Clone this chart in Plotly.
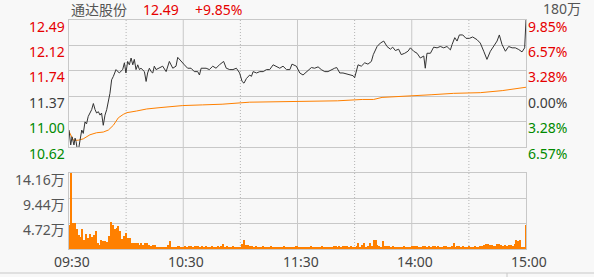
import plotly.graph_objects as go

# ---------------- data ----------------
stock_name = "通达股份"
last_price = "12.49"
last_change = "+9.85%"
vol_max_label = "180万"

price_levels = [12.49, 12.12, 11.74, 11.37, 11.00, 10.62]
price_level_text = ["12.49", "12.12", "11.74", "11.37", "11.00", "10.62"]
pct_level_text = ["9.85%", "6.57%", "3.28%", "0.00%", "3.28%", "6.57%"]
level_colors = ["#e60000", "#e60000", "#e60000", "#3c3c3c", "#008a00", "#008a00"]
pct_colors = ["#e60000", "#e60000", "#e60000", "#3c3c3c", "#008a00", "#008a00"]

vol_levels = [14.16, 9.44, 4.72]
vol_level_text = ["14.16万", "9.44万", "4.72万"]

time_ticks = [0, 60, 120, 180, 240]
time_labels = ["09:30", "10:30", "11:30", "14:00", "15:00"]
half_hour_ticks = [30, 90, 150, 210]

# minutes since 09:30 (trading minutes) and price
price_minutes = [
    0, 0.9, 1.6, 2.6, 3.2, 3.7, 4.4, 5.0, 5.8, 6.7, 7.5, 8.4, 9.2, 10.1, 11.9, 12.8,
    13.7, 14.5, 15.4, 16.3, 17.1, 18.0, 18.9, 19.8, 21.5, 22.4, 23.3, 24.7, 26.4, 28.2,
    29.1, 29.9, 30.8, 31.7, 32.6, 33.5, 34.3, 35.2, 36.1, 37.0, 37.8, 38.7, 39.6, 40.5,
    41.3, 42.2, 43.1, 44.0, 44.8, 45.7, 47.5, 49.2, 51.0, 52.7, 54.5, 56.2, 57.1, 58.8,
    60.6, 62.3, 64.1, 65.8, 67.6, 68.5, 69.4, 72.0, 73.7, 75.5, 77.2, 79.0, 80.4, 81.2,
    82.6, 84.4, 86.1, 87.9, 89.6, 90.9, 91.9, 93.2, 94.9, 95.8, 96.7, 98.5, 100.2, 102.0,
    103.7, 105.4, 107.2, 108.9, 110.7, 112.4, 114.2, 116.0, 117.1, 119.4, 121.2, 122.9,
    124.7, 127.3, 129.0, 130.8, 132.5, 134.3, 136.0, 137.8, 139.5, 140.6, 142.2, 143.9,
    145.7, 147.4, 149.2, 150.0, 150.9, 151.8, 153.5, 155.3, 157.0, 158.8, 159.8, 161.8,
    163.5, 165.3, 167.0, 168.8, 170.0, 171.4, 173.1, 174.5, 176.3, 178.0, 179.3, 181.0,
    182.8, 184.5, 186.3, 187.1, 188.0, 189.8, 191.5, 193.3, 195.0, 196.8, 198.5, 200.3,
    201.2, 202.6, 203.8, 205.0, 206.8, 208.5, 210.3, 212.0, 214.3, 216.0, 217.8, 219.5,
    221.3, 223.0, 224.8, 226.0, 227.4, 229.2, 230.9, 232.7, 234.4, 236.2, 237.9, 239.3,
    240.0,
]
prices = [
    10.87, 10.65, 10.77, 10.65, 10.75, 10.70, 10.58, 10.58, 10.72, 10.87, 10.82, 10.99, 10.96, 11.07, 11.17, 11.26,
    11.17, 11.12, 11.14, 11.09, 11.12, 10.94, 11.09, 11.17, 11.41, 11.61, 11.66, 11.76, 11.71, 11.76,
    11.86, 11.71, 11.88, 11.83, 11.93, 11.83, 11.91, 11.76, 11.83, 11.76, 11.78, 11.76, 11.73, 11.585,
    11.71, 11.78, 11.73, 11.71, 11.81, 11.76, 11.78, 11.81, 11.73, 11.88, 11.78, 11.81, 11.94, 11.88,
    11.83, 11.78, 11.78, 11.73, 11.73, 11.68, 11.78, 11.78, 11.76, 11.81, 11.78, 11.83, 11.86, 11.88,
    11.78, 11.76, 11.76, 11.78, 11.71, 11.585, 11.56, 11.63, 11.68, 11.66, 11.73, 11.71, 11.73, 11.73,
    11.76, 11.76, 11.83, 11.81, 11.78, 11.81, 11.76, 11.76, 11.84, 11.81, 11.71, 11.68,
    11.73, 11.79, 11.78, 11.80, 11.76, 11.73, 11.73, 11.76, 11.78, 11.79, 11.71, 11.71,
    11.70, 11.68, 11.67, 11.64, 11.76, 11.83, 11.81, 11.86, 11.84, 11.88, 11.98, 12.10,
    12.15, 12.18, 12.10, 12.06, 12.09, 12.04, 12.06, 11.98, 12.00, 12.03, 12.08, 12.03,
    12.00, 11.93, 11.96, 11.78, 12.00, 12.00, 12.09, 12.08, 12.10, 12.08, 12.10, 12.05,
    12.13, 12.23, 12.18, 12.27, 12.27, 12.22, 12.22, 12.24, 12.20, 12.15, 12.03, 11.91,
    12.03, 12.10, 12.18, 12.27, 12.13, 12.03, 12.10, 12.08, 12.08, 12.055, 12.02, 12.08,
    12.49,
]

avg_minutes = [0, 2.3, 4.9, 7.5, 11.0, 14.5, 18.0, 20.7, 23.3, 25.9, 28.5, 30.3, 35.5, 40.8,
               47.8, 54.5, 59.7, 70.2, 80.4, 94.9, 116, 141, 154, 160, 164.4, 180.1, 190.6,
               202, 216, 227.5, 234.5, 240]
avg_prices = [10.85, 10.72, 10.72, 10.74, 10.80, 10.83, 10.84, 10.87, 10.94, 11.05, 11.10, 11.125,
              11.15, 11.18, 11.20, 11.22, 11.23, 11.24, 11.25, 11.28, 11.29, 11.30, 11.32, 11.32,
              11.35, 11.37, 11.39, 11.41, 11.42, 11.45, 11.48, 11.50]

# volume per minute, in 万
volumes = [
    4.5, 14.1, 4.8, 4.9, 3.7, 2.6, 2.2, 3.7, 1.7, 2.8,
    2.0, 2.8, 2.2, 2.6, 3.4, 1.2, 0.8, 1.6, 1.4, 1.5,
    1.3, 2.4, 5.0, 4.4, 3.7, 4.0, 4.2, 3.4, 1.8, 2.4,
    2.9, 2.0, 2.1, 1.2, 1.1, 1.1, 1.2, 0.8, 1.1, 0.8,
    1.2, 1.1, 0.8, 0.6, 0.8, 0.7, 0.4, 0.4, 0.4, 0.4,
    0.4, 0.4, 0.8, 1.5, 0.4, 0.4, 0.4, 0.6, 0.6, 0.4,
    0.4, 0.5, 0.4, 0.6, 0.5, 0.4, 0.5, 0.6, 0.5, 0.4,
    0.5, 0.4, 0.6, 0.4, 0.4, 0.5, 0.4, 0.4, 0.6, 0.4,
    0.5, 0.9, 0.4, 0.5, 0.4, 0.4, 0.5, 0.4, 0.3, 0.4,
    0.3, 0.9, 1.6, 0.8, 0.7, 0.5, 0.6, 0.4, 0.5, 0.4,
    0.3, 0.4, 0.5, 0.4, 0.3, 0.4, 0.5, 0.4, 0.3, 0.4,
    0.4, 0.3, 0.4, 0.5, 0.3, 0.4, 0.4, 0.3, 0.4, 0.5,
    0.5, 0.4, 0.3, 0.4, 0.4, 0.3, 0.4, 0.5, 0.3, 0.4,
    0.3, 0.4, 0.3, 0.5, 0.4, 0.3, 0.4, 0.3, 0.4, 0.5,
    0.6, 0.4, 0.5, 0.4, 0.5, 0.6, 0.5, 0.4, 0.6, 0.4,
    0.4, 0.5, 1.2, 0.4, 0.8, 1.2, 0.4, 0.6, 1.1, 0.5,
    1.7, 1.7, 0.7, 0.5, 0.4, 1.5, 0.6, 0.5, 0.6, 0.4,
    0.5, 0.4, 0.4, 0.4, 0.3, 0.4, 0.5, 0.4, 0.3, 0.4,
    0.5, 0.6, 0.5, 0.6, 0.4, 0.4, 0.6, 0.5, 0.4, 0.6,
    0.4, 0.5, 0.6, 0.4, 0.5, 0.4, 0.4, 0.5, 0.6, 0.4,
    0.4, 0.5, 1.1, 0.4, 0.5, 0.6, 0.4, 0.5, 0.4, 0.4,
    0.5, 0.4, 0.4, 0.5, 0.4, 0.4, 0.6, 0.5, 0.8, 0.9,
    0.9, 0.8, 0.8, 0.6, 0.6, 0.9, 0.9, 0.8, 0.5, 0.8,
    0.6, 0.7, 0.8, 0.6, 0.9, 1.7, 1.5, 1.7, 0.4, 0.4,
    4.5,
]
vol_minutes = list(range(len(volumes)))

# ---------------- style ----------------
BG = "#f8f8f8"
GRID = "#c8c8c8"
FONT = "Noto Sans, Noto Sans CJK SC, sans-serif"
FS = 14

fig = go.Figure()
fig.add_trace(go.Scatter(x=avg_minutes, y=avg_prices, mode="lines",
                         line=dict(color="#ff8000", width=1), xaxis="x", yaxis="y",
                         hoverinfo="skip"))
fig.add_trace(go.Scatter(x=price_minutes, y=prices, mode="lines",
                         line=dict(color="#333333", width=1), xaxis="x", yaxis="y",
                         hoverinfo="skip"))
fig.add_trace(go.Bar(x=vol_minutes, y=volumes, width=0.55,
                     marker=dict(color="#ff8000", line=dict(width=0)),
                     xaxis="x2", yaxis="y2", hoverinfo="skip"))

ax_common = dict(range=[0, 240], showgrid=False, showticklabels=False, zeroline=False,
                 showline=True, mirror=True, linecolor=GRID, linewidth=1, ticks="")
P_TOP, P_BOT, V_TOP = 20, 147, 173
H = 249 - 20
fig.update_layout(
    width=594, height=277,
    margin=dict(l=69, r=68, t=20, b=28),
    paper_bgcolor=BG, plot_bgcolor=BG,
    showlegend=False, bargap=0,
    font=dict(family=FONT, size=FS),
    xaxis=dict(anchor="y", **ax_common),
    xaxis2=dict(anchor="y2", **ax_common),
    yaxis=dict(domain=[(249 - P_BOT) / H, 1], range=[price_levels[-1], price_levels[0]],
               tickvals=price_levels, showticklabels=False, showgrid=True, gridcolor=GRID,
               gridwidth=1, zeroline=False, showline=True, mirror=True, linecolor=GRID),
    yaxis2=dict(domain=[0, (249 - V_TOP) / H], range=[0, vol_levels[0]],
                tickvals=vol_levels, showticklabels=False, showgrid=True, gridcolor=GRID,
                gridwidth=1, zeroline=False, showline=True, mirror=True, linecolor=GRID),
)

shapes = []
for t in time_ticks[1:-1]:
    shapes.append(dict(type="line", xref="x", yref="paper", x0=t, x1=t, y0=0, y1=1,
                       line=dict(color=GRID, width=1), layer="below"))
for t in half_hour_ticks:
    shapes.append(dict(type="line", xref="x", yref="paper", x0=t, x1=t, y0=0, y1=1,
                       line=dict(color="#b4b4b4", width=1, dash="1px,2px"), layer="below"))
# bottom separator line
shapes.append(dict(type="line", xref="paper", yref="paper", x0=-69 / 457, x1=1 + 68 / 457,
                   y0=-24 / H, y1=-24 / H, line=dict(color="#c8c8c8", width=1)))
shapes.append(dict(type="line", xref="paper", yref="paper", x0=(507 - 69) / 457, x1=(507 - 69) / 457,
                   y0=-24 / H, y1=-28 / H, line=dict(color="#c8c8c8", width=1)))
fig.update_layout(shapes=shapes)

ann = []
for lv, txt, c in zip(price_levels, price_level_text, level_colors):
    ann.append(dict(x=0, xref="paper", y=lv, yref="y", text=txt, showarrow=False,
                    xanchor="right", yanchor="middle", xshift=-2, yshift=-6,
                    font=dict(color=c, size=FS, family=FONT)))
for lv, txt, c in zip(price_levels, pct_level_text, pct_colors):
    ann.append(dict(x=1, xref="paper", y=lv, yref="y", text=txt, showarrow=False,
                    xanchor="left", yanchor="middle", xshift=0, yshift=-6,
                    font=dict(color=c, size=FS, family=FONT)))
for lv, txt in zip(vol_levels, vol_level_text):
    ann.append(dict(x=0, xref="paper", y=lv, yref="y2", text=txt, showarrow=False,
                    xanchor="right", yanchor="middle", xshift=-2, yshift=-6,
                    font=dict(color="#555555", size=FS, family=FONT)))
for t, txt in zip(time_ticks, time_labels):
    ann.append(dict(x=t, xref="x2", y=0, yref="paper", text=txt, showarrow=False,
                    xanchor="center", yanchor="middle", xshift=3, yshift=-12,
                    font=dict(color="#444444", size=FS, family=FONT)))
ann.append(dict(x=0, xref="paper", y=1, yref="paper", text=stock_name, showarrow=False,
                xanchor="left", yanchor="middle", xshift=0, yshift=11,
                font=dict(color="#555555", size=FS, family=FONT)))
ann.append(dict(x=0, xref="paper", y=1, yref="paper", text=last_price, showarrow=False,
                xanchor="left", yanchor="middle", xshift=72, yshift=11,
                font=dict(color="#e60000", size=FS, family=FONT)))
ann.append(dict(x=0, xref="paper", y=1, yref="paper", text=last_change, showarrow=False,
                xanchor="left", yanchor="middle", xshift=124, yshift=11,
                font=dict(color="#e60000", size=FS, family=FONT)))
ann.append(dict(x=1, xref="paper", y=1, yref="paper", text=vol_max_label, showarrow=False,
                xanchor="left", yanchor="middle", xshift=15, yshift=12,
                font=dict(color="#555555", size=FS, family=FONT)))
fig.update_layout(annotations=ann)

fig.write_html("out.html")
